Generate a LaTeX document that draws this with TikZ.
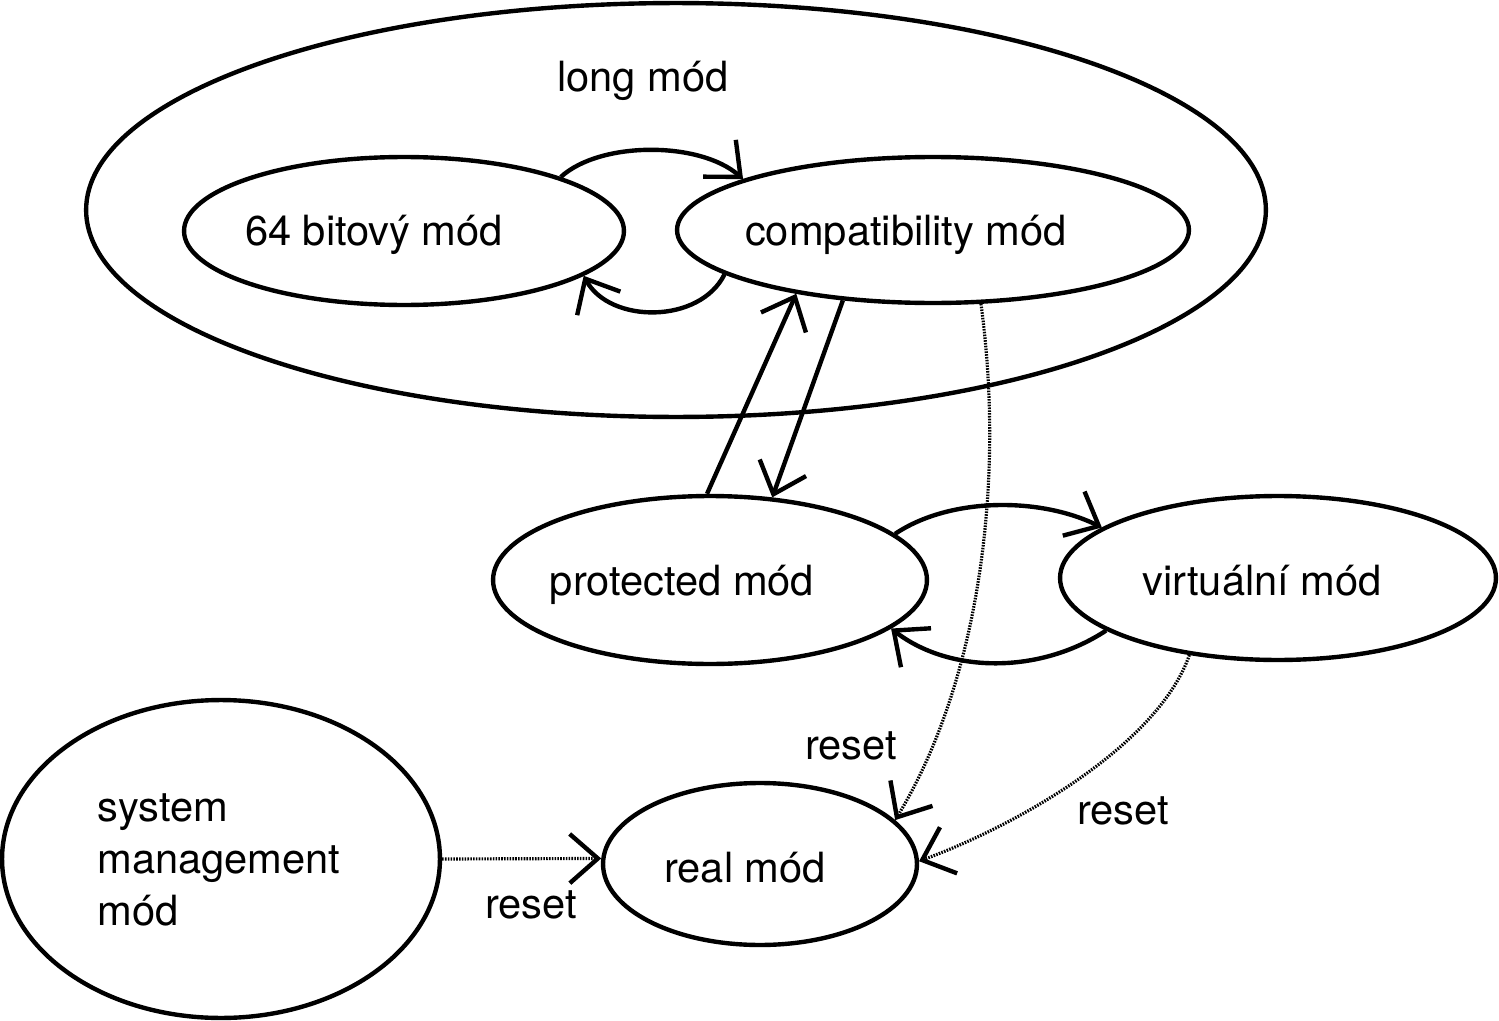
\documentclass[tikz,border=0pt]{standalone}
\usepackage{fontspec}
\setmainfont{TeX Gyre Heros}
\usetikzlibrary{shapes.geometric,arrows.meta}
\begin{document}
\begin{tikzpicture}[x=0.02cm,y=-0.02cm,
  ell/.style={draw, ellipse, line width=2.5pt, inner sep=0pt},
  lbl/.style={font=\fontsize{23.7}{30}\selectfont, inner sep=0pt},
  tipend/.style={-{Straight Barb[length=16pt,width=28pt,line width=2.5pt]}},
  solidc/.style={line width=2.5pt, tipend},
  dotc/.style={line width=1.8pt, dash pattern=on 0.9pt off 0.7pt, tipend}]
\useasboundingbox (0,0) rectangle (1499,1021);
% ellipses
\node[ell, minimum width=23.6cm, minimum height=8.28cm] (long) at (676,210) {};
\node[ell, minimum width=8.8cm, minimum height=2.96cm] (b64) at (404,231) {};
\node[ell, minimum width=10.24cm, minimum height=2.92cm] (compat) at (933,230) {};
\node[ell, minimum width=8.68cm, minimum height=3.36cm] (prot) at (710,580) {};
\node[ell, minimum width=8.72cm, minimum height=3.28cm] (virt) at (1278,578) {};
\node[ell, minimum width=6.28cm, minimum height=3.24cm] (real) at (760,864) {};
\node[ell, minimum width=8.76cm, minimum height=6.36cm] (smm) at (221,859) {};
% texts
\node[lbl] (tlong) at (643,81) {long mód};
\node[lbl] (tb64) at (374,235) {64 bitový mód};
\node[lbl] (tcompat) at (906,235) {compatibility mód};
\node[lbl] (tprot) at (682,585) {protected mód};
\node[lbl] (tvirt) at (1262,581) {virtuální mód};
\node[lbl] (treal) at (745,868) {real mód};
\node[lbl, align=left, anchor=west, font=\fontsize{23.7}{29.5}\selectfont] (tsmm) at (97,860) {system\\management\\mód};
\node[lbl] (r1) at (851,746) {reset};
\node[lbl] (r2) at (1123,811) {reset};
\node[lbl] (r3) at (531,905) {reset};
% solid connectors
\draw[solidc] (b64.19) .. controls (600,141) and (700,141) .. (compat.165);
\draw[solidc] (compat.192.5) .. controls (700,324) and (610,324) .. (b64.346);
\draw[solidc] (prot.92.7) -- (compat.205);
\draw[solidc] (compat.218.7) -- (prot.53.8);
\draw[solidc] (prot.14.9) .. controls (950,497) and (1040,497) .. (virt.164.3);
\draw[solidc] (virt.197.3) .. controls (1040,674) and (950,674) .. (prot.345.5);
% dotted reset connectors
\draw[dotc] (compat.303.1) .. controls (1005,480) and (980,680) .. (real.18.7);
\draw[dotc] (virt.221.1) .. controls (1160,740) and (1030,820) .. (real.1);
\draw[dotc] (smm.0.3) -- (real.178.5);
\end{tikzpicture}
\end{document}
